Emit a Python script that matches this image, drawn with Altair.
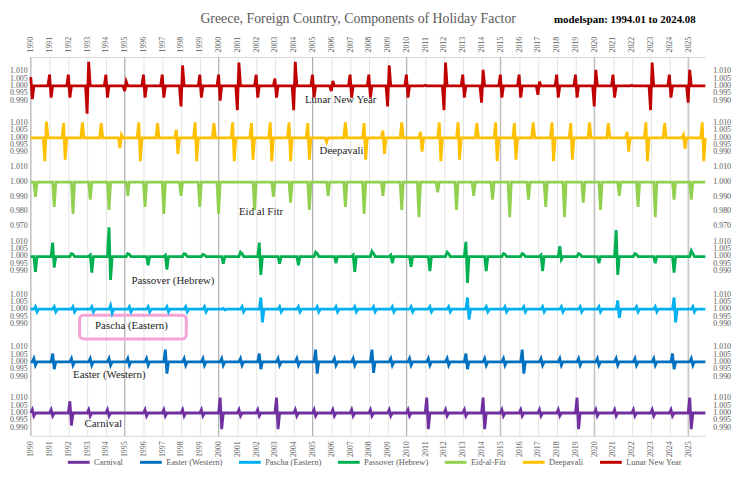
import altair as alt
import pandas as pd

years = list(range(1990, 2026))

# deviations from 1.000, in thousandths, read per year (two consecutive months)
lny_jan = [6, 7.7, 7.7, -19, 7.7, -3.5, 7.7, 7.7, -14, 7.7, 7.7, -16.5, 7.7, 5, -16.5, 7.7, -3.5, 7.7,
           7.7, -14, 7.7, 0.5, -16.5, 7.7, -11.4, 7.7, 7.7, -6, 7.7, 7.7, -14, 7.7, 0.5, -16.5, 7.7, -11.4]
lny_feb = [-9, -8, -8, 16.5, -8, 3, -8, -8, 14, -8, -10, 16, -8, -8, 16.5, -8, 3.5, -8,
           -8, 14, -8, 0, 16, -8, 11, -8, -8, 3, -8, -8, 11, -8, 0, 16, -8, 11]

dee_oct = [-16, 10, 10.5, 10, -7, 10.5, 10, 5.5, 10.5, 10, 10.5, 10, 10.5, 10.5, 10, -3, 10.5, 10,
           5, 10.5, 4, 10.5, 10.5, 10, 10.5, 10, 10.5, 10.5, 10, 10.5, 10, 4, 10.5, 10, 2, 10.5]
dee_nov = [11, -15, 0, 0, 2, -16, 0, -11, -16, 0, -16, -15, -16, -16, -15, 0, 0, -15,
           -11, 0, -9.5, -16, -15, 0, -16, -15, 0, -16, -15, 0, 0, -9.5, -16, 0, -7.5, -16]

eid_month = [4, 4, 4, 3, 3, 3, 2, 2, 1, 1, 1, 12, 12, 11, 11, 11, 10, 10,
             10, 10, 9, 9, 9, 8, 8, 7, 7, 6, 6, 6, 5, 5, 5, 4, 4, 3]
eid_dev = [-10, -17, -21.7, -12, -19, -9.3, -17, -21.7, -9.3, -17, -21.7, -19, -10, -14, -19, -9.3, -17, -21.7,
           -9.3, -19, -24, -7, -19, -9.3, -12, -24, -12, -17, -24, -14, -19, -9.3, -17, -24, -12, -12]

pas_mar = [0, 9.5, 2, 1, 20, 2, 0, 1, 2, 1.5, 0, 3, 9.5, 0, 0, 3, 0, 1,
           3.5, 1, 0, 0, 3, 10, 0, 2, 2, 1, 7, 2, 0, 18, 2, 0, 0, 4]
pas_apr = [-10.5, -7.5, 1.5, -11, -16, 1.5, -6, -9, 1.5, 1, -5, 2, -12.5, -5, -6, 2, -4.5, -10.5,
           2, -4.5, -7, -10, 2, -18, -10, 1.5, 1.5, -10, -2, 1.5, -4.5, -12.5, 1.5, -4.5, -11, 2]

psc_apr = [1.8, 1.8, 1.8, 1.8, 2.7, 1.8, 1.8, 1.8, 1.8, 1.8, 0.5, 1.8, 8, 1.8, 1.8, 1.8, 1.8, 1.8,
           1.8, 1.8, 1.8, 1.8, 1.8, 8, 1.8, 1.8, 1.8, 1.8, 1.8, 1.8, 1.8, 6, 1.8, 1.8, 8, 1.8]
psc_may = [-1.8, -1.8, -1.8, -1.8, -2.7, -1.8, -1.8, -1.8, -1.8, -1.8, -0.5, -1.8, -9, -1.8, -1.8, -1.8, -1.8, -1.8,
           -1.8, -1.8, -1.8, -1.8, -1.8, -7, -1.8, -1.8, -1.8, -1.8, -1.8, -1.8, -1.8, -6, -1.8, -1.8, -9, -1.8]

eas_mar = [2.3, 5.7, 2.3, 2.3, 2.3, 2.3, 2.3, 8.4, 2.3, 2.3, 2.3, 2.3, 5.7, 2.3, 2.3, 8.4, 2.3, 2.3,
           8.4, 2.3, 2.3, 2.3, 2.3, 5.7, 2.3, 2.3, 8.4, 2.3, 2.3, 2.3, 2.3, 2.3, 2.3, 2.3, 5.7, 2.3]
eas_apr = [-2.3, -5, -2.3, -2.3, -2.3, -2.3, -2.3, -8, -2.3, -2.3, -2.3, -2.3, -5, -2.3, -2.3, -8, -2.3, -2.3,
           -7.5, -2.3, -2.3, -2.3, -2.3, -5, -2.3, -2.3, -8, -2.3, -2.3, -2.3, -2.3, -2.3, -2.3, -2.3, -5, -2.3]

car_feb = [2.3, 2.3, 8, 2.3, 2.3, 0, 2.3, 2.3, 2.3, 2.3, 10.5, 2.3, 2.3, 10.5, 2.3, 2.3, 2.3, 2.3,
           2.3, 2.3, 2.3, 10.5, 2.3, 2.3, 10.5, 2.3, 2.3, 2.3, 2.3, 10.5, 2.3, 2.3, 2.3, 2.3, 2.3, 10.5]
car_mar = [-2, -2, -8.6, -2, -2, 0, -2, -2, -2, -2, -11, -2, -2, -11, -2, -2, -2, -2,
           -2, -2, -2, -11, -2, -2, -11, -2, -2, -2, -2, -11, -2, -2, -2, -2, -2, -11]

order = ["Carnival", "Easter (Western)", "Pascha (Eastern)", "Passover (Hebrew)",
         "Eid-al-Fitr", "Deepavali", "Lunar New Year"]
colors = ["#7030A0", "#0070C0", "#00B0F0", "#00B050", "#92D050", "#FFC000", "#C00000"]

# vertical stacking offsets of each panel (layout)
shift = {"Lunar New Year": 0.0, "Deepavali": 0.0354, "Eid-al-Fitr": 0.0657,
         "Passover (Hebrew)": 0.1165, "Pascha (Eastern)": 0.1525,
         "Easter (Western)": 0.1885, "Carnival": 0.2234}

tick_std = [1.010, 1.005, 1.000, 0.995, 0.990]
tick_eid = [1.010, 1.000, 0.990, 0.980, 0.970]

annotations = [
    ("Lunar New Year", "Lunar New Year", 2006.50, 0.9901),
    ("Deepavali", "Deepavali", 2006.55, 0.9910),
    ("Eid al Fitr", "Eid-al-Fitr", 2002.26, 0.9798),
    ("Passover (Hebrew)", "Passover (Hebrew)", 1997.57, 0.9834),
    ("Pascha (Eastern)", "Pascha (Eastern)", 1995.36, 0.9882),
    ("Easter (Western)", "Easter (Western)", 1994.18, 0.9907),
    ("Carnival", "Carnival", 1993.86, 0.9927),
]

title_text = "Greece, Foreign Country, Components of Holiday Factor"
span_text = "modelspan: 1994.01 to 2024.08"

pairs = {
    "Lunar New Year": (1, lny_jan, lny_feb),
    "Deepavali": (10, dee_oct, dee_nov),
    "Passover (Hebrew)": (3, pas_mar, pas_apr),
    "Pascha (Eastern)": (4, psc_apr, psc_may),
    "Easter (Western)": (3, eas_mar, eas_apr),
    "Carnival": (2, car_feb, car_mar),
}

rows = []
for name in order:
    devs = {}
    if name == "Eid-al-Fitr":
        for i, yr in enumerate(years):
            devs[(yr, eid_month[i])] = eid_dev[i]
    else:
        m1, a, b = pairs[name]
        for i, yr in enumerate(years):
            devs[(yr, m1)] = a[i]
            devs[(yr, m1 + 1)] = b[i]
    for yr in years:
        for m in range(1, 13):
            d = devs.get((yr, m), 0.0)
            rows.append({"series": name, "t": yr + (m - 1) / 12,
                         "y": 1 + d / 1000 - shift[name]})
df = pd.DataFrame(rows)

tick_rows = []
for name in order:
    for v in (tick_eid if name == "Eid-al-Fitr" else tick_std):
        tick_rows.append({"label": f"{v:.3f}", "y": v - shift[name]})
ticks_df = pd.DataFrame(tick_rows)

ann_df = pd.DataFrame([{"label": l, "t": t, "y": v - shift[s]} for l, s, t, v in annotations])

box_df = pd.DataFrame([{"t1": 1992.60, "t2": 1998.28,
                        "y1": 0.9959 - shift["Pascha (Eastern)"],
                        "y2": 0.9797 - shift["Pascha (Eastern)"]}])

grid5 = pd.DataFrame({"yr": [1990, 1995, 2000, 2005, 2010, 2015, 2020, 2025]})

W, H = 682, 383
FONT = "Liberation Serif"
GRAY = "#595959"
xdom = [1990, 2025 + 11 / 12]
ydom = [0.7610, 1.0198]
xscale = alt.Scale(domain=xdom, nice=False, zero=False)
yscale = alt.Scale(domain=ydom, nice=False, zero=False)


def xaxis(orient, grid):
    return alt.Axis(orient=orient, values=years, format="d", labelAngle=270, title=None,
                    labelFont=FONT, labelFontSize=8, labelColor=GRAY, ticks=False,
                    labelPadding=5, labelFlush=False, labelOverlap=False,
                    domain=True, domainColor="#D9D9D9", grid=grid, gridColor="#E3E3E3")


rules = alt.Chart(grid5).mark_rule(color="#B0B0B0", strokeWidth=1).encode(
    x=alt.X("yr:Q", scale=xscale, axis=xaxis("bottom", False))
)

box = alt.Chart(box_df).mark_rect(cornerRadius=4, stroke="#F5A3D6", strokeWidth=3,
                                  fillOpacity=0).encode(
    x=alt.X("t1:Q", scale=xscale, axis=None), x2="t2:Q",
    y=alt.Y("y1:Q", scale=yscale, axis=None), y2="y2:Q"
)

lines = alt.Chart(df).mark_line(strokeWidth=2.8).encode(
    x=alt.X("t:Q", scale=xscale, axis=xaxis("top", True)),
    y=alt.Y("y:Q", scale=yscale, axis=None),
    color=alt.Color("series:N", sort=order,
                    scale=alt.Scale(domain=order, range=colors),
                    legend=alt.Legend(orient="none", legendX=36, legendY=397,
                                      direction="horizontal", columns=7, title=None,
                                      symbolType="stroke", symbolStrokeWidth=3, symbolSize=484,
                                      labelFont=FONT, labelFontSize=8.5, labelColor=GRAY,
                                      labelOffset=3, columnPadding=10)),
)

ann = alt.Chart(ann_df).mark_text(font=FONT, fontSize=11, color="#262626",
                                  align="center", baseline="middle").encode(
    x=alt.X("t:Q", scale=xscale, axis=None), y=alt.Y("y:Q", scale=yscale, axis=None),
    text="label:N"
)

left_ticks = alt.Chart(ticks_df).mark_text(font=FONT, fontSize=8, color=GRAY,
                                           align="right", baseline="middle").encode(
    x=alt.value(-3), y=alt.Y("y:Q", scale=yscale, axis=None), text="label:N"
)
right_ticks = alt.Chart(ticks_df).mark_text(font=FONT, fontSize=8, color=GRAY,
                                            align="left", baseline="middle").encode(
    x=alt.value(W + 8), y=alt.Y("y:Q", scale=yscale, axis=None), text="label:N"
)

title = alt.Chart(pd.DataFrame({"label": [title_text]})).mark_text(
    font=FONT, fontSize=14, color=GRAY, align="center", baseline="alphabetic"
).encode(x=alt.value(331), y=alt.value(-34), text="label:N")

span = alt.Chart(pd.DataFrame({"label": [span_text]})).mark_text(
    font=FONT, fontSize=11, fontWeight="bold", color="#000000", align="left", baseline="middle"
).encode(x=alt.value(529), y=alt.value(-37), text="label:N")

chart = alt.layer(rules, box, lines, ann, left_ticks, right_ticks, title, span).resolve_axis(
    x="independent"
).properties(
    width=W, height=H,
    autosize=alt.AutoSizeParams(type="none"),
    padding={"left": 23, "top": 47, "right": 34, "bottom": 31},
).configure_view(stroke=None)

chart.save("out.html", embed_options={"renderer": "svg", "actions": False})
